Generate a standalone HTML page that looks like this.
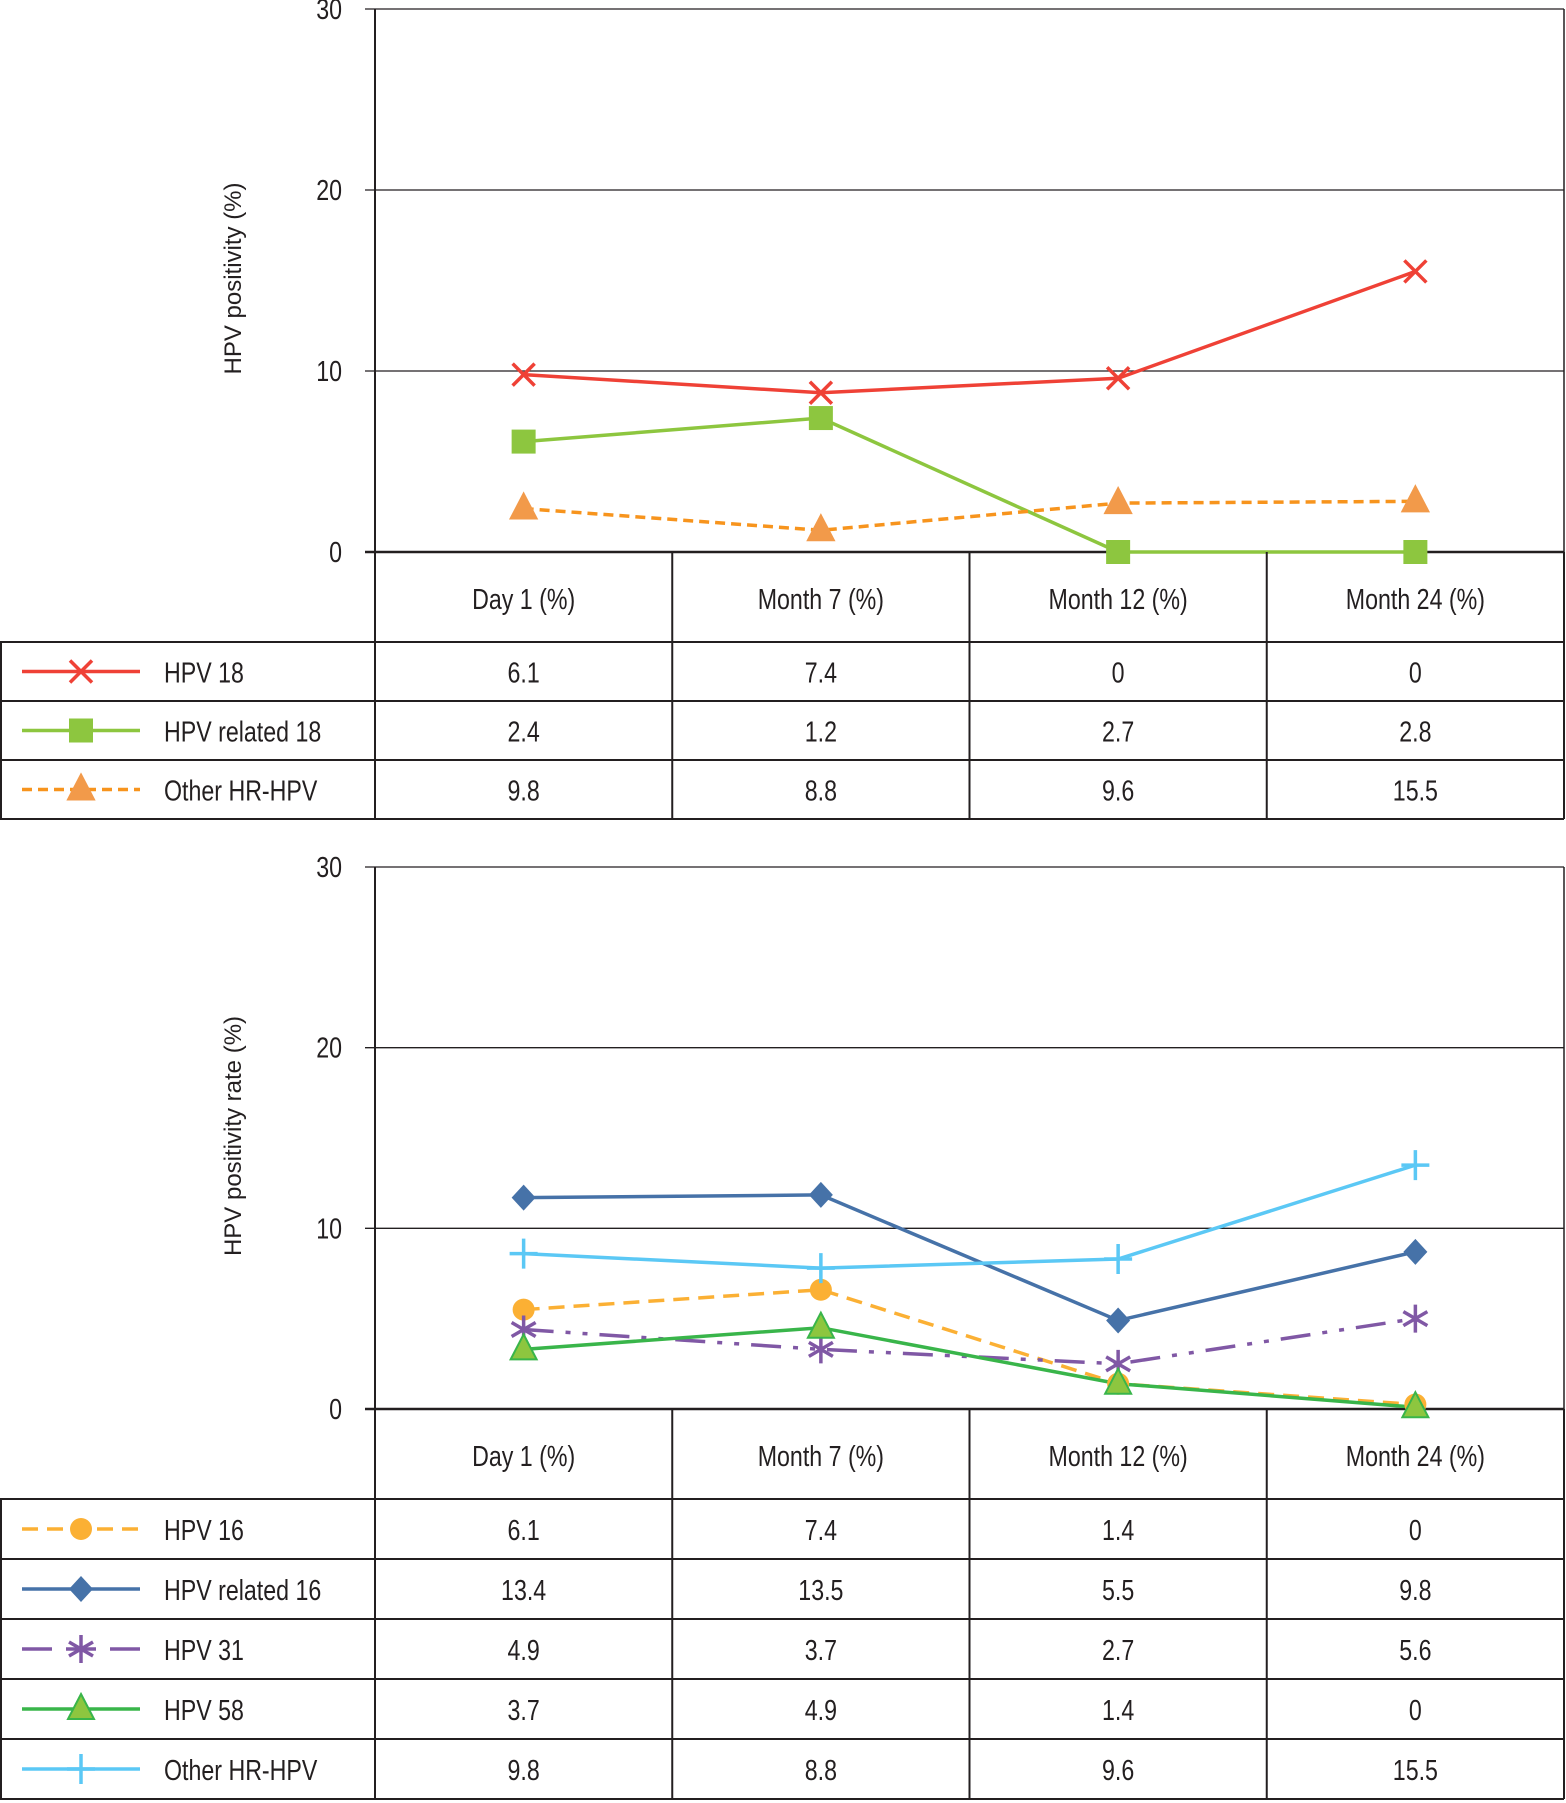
<!DOCTYPE html>
<html><head><meta charset="utf-8"><style>
html,body{margin:0;padding:0;background:#fff}
svg{display:block}
text{font-family:"Liberation Sans",sans-serif;fill:#231f20}
.t{font-size:29px}
.yt{font-family:"Liberation Sans",sans-serif;font-size:24px}
</style></head><body>
<svg id="svg" width="1566" height="1803" viewBox="0 0 1566 1803" xmlns="http://www.w3.org/2000/svg"></svg>
<script>
const categories = ["Day 1 (%)", "Month 7 (%)", "Month 12 (%)", "Month 24 (%)"];
const yTicks = [0, 10, 20, 30];
// top chart plotted series
const topRed = [9.8, 8.8, 9.6, 15.5];
const topGreen = [6.1, 7.4, 0, 0];
const topOrange = [2.4, 1.2, 2.7, 2.8];
// top table values
const topLabels = ["HPV 18", "HPV related 18", "Other HR-HPV"];
const topRow1 = ["6.1", "7.4", "0", "0"];
const topRow2 = ["2.4", "1.2", "2.7", "2.8"];
const topRow3 = ["9.8", "8.8", "9.6", "15.5"];
// bottom chart plotted series
const botOrange = [5.5, 6.6, 1.4, 0.25];
const botBlue = [11.7, 11.85, 4.9, 8.7];
const botPurple = [4.4, 3.3, 2.5, 5.0];
const botGreen = [3.3, 4.5, 1.4, 0.1];
const botCyan = [8.6, 7.8, 8.3, 13.5];
// bottom table values
const botLabels = ["HPV 16", "HPV related 16", "HPV 31", "HPV 58", "Other HR-HPV"];
const botRow1 = ["6.1", "7.4", "1.4", "0"];
const botRow2 = ["13.4", "13.5", "5.5", "9.8"];
const botRow3 = ["4.9", "3.7", "2.7", "5.6"];
const botRow4 = ["3.7", "4.9", "1.4", "0"];
const botRow5 = ["9.8", "8.8", "9.6", "15.5"];

const NS = "http://www.w3.org/2000/svg";
const svg = document.getElementById("svg");
function mk(tag, attrs, parent) {
  const e = document.createElementNS(NS, tag);
  for (const k in attrs) e.setAttribute(k, attrs[k]);
  (parent || svg).appendChild(e);
  return e;
}
function ntext(parent, x, y, anchor, str) {
  const t = mk("text", {x:0, y:0, "text-anchor":anchor, class:"t", transform:`translate(${x},${y}) scale(0.8,1)`}, parent);
  t.textContent = str;
  return t;
}
const L = 375, R = 1564, colW = (R - L) / 4;
const xPos = i => L + colW * (i + 0.5);

function marker(g, type, x, y, color) {
  let e;
  if (type === "x") {
    e = mk("path", {d:`M${x-11},${y-11}L${x+11},${y+11}M${x+11},${y-11}L${x-11},${y+11}`, stroke:color, "stroke-width":3.5, fill:"none"}, g);
  } else if (type === "square") {
    e = mk("rect", {x:x-12, y:y-12, width:24, height:24, fill:color}, g);
  } else if (type === "tri") {
    e = mk("path", {d:`M${x},${y-15}L${x+13},${y+10}L${x-13},${y+10}Z`, fill:color, stroke:color==="#8dc63f"?"#39b54a":color, "stroke-width":2}, g);
  } else if (type === "circle") {
    e = mk("circle", {cx:x, cy:y, r:11, fill:color}, g);
  } else if (type === "diamond") {
    e = mk("path", {d:`M${x},${y-13}L${x+12},${y}L${x},${y+13}L${x-12},${y}Z`, fill:color}, g);
  } else if (type === "star") {
    e = mk("path", {d:`M${x},${y-14}L${x},${y+14}M${x-12},${y-7}L${x+12},${y+7}M${x+12},${y-7}L${x-12},${y+7}`, stroke:color, "stroke-width":3.5, fill:"none"}, g);
  } else if (type === "plus") {
    e = mk("path", {d:`M${x},${y-15}L${x},${y+15}M${x-14},${y}L${x+14},${y}`, stroke:color, "stroke-width":3.5, fill:"none"}, g);
  }
  
  
}

function chart(prefix, top, y0, title, series, labels, rows, rowH, headerBottom) {
  const yS = v => y0 - (v / 30) * (y0 - top);
  const g = mk("g", {});
  
  
  yTicks.forEach(t => {
    const y = yS(t);
    const gl = mk("line", {x1:365, x2:R, y1:y, y2:y, stroke:"#231f20", "stroke-width": t===0?2.5:1.3}, g);
    
    
    const tl = ntext(g, 342, y + 10, "end", String(t));
    
    
  });
  const ax = mk("line", {x1:L, x2:L, y1:top, y2:y0, stroke:"#231f20", "stroke-width":2}, g);
  
  
  const rb = mk("line", {x1:R, x2:R, y1:top, y2:y0, stroke:"#231f20", "stroke-width":1.5}, g);
  
  
  const ty = (top + y0) / 2;
  const yt = mk("text", {x:0, y:0, "text-anchor":"middle", class:"yt", transform:`translate(241,${ty - 2}) rotate(-90)`}, g);
  yt.textContent = title;
  
  
  series.forEach(s => {
    const pts = s.vals.map((v, i) => `${xPos(i)},${yS(v)}`).join(" ");
    const pl = mk("polyline", {points:pts, fill:"none", stroke:s.color, "stroke-width":3.5, "stroke-dasharray":s.dash||"none"}, g);
    
    
  });
  series.forEach(s => s.vals.forEach((v, i) => marker(g, s.marker, xPos(i), yS(v), s.mcolor || s.color)));
  const tg = mk("g", {});
  
  
  const tableBottom = headerBottom + rowH * rows.length;
  for (let i = 0; i <= 4; i++) {
    const x = L + colW * i;
    mk("line", {x1:x, x2:x, y1:y0, y2:tableBottom, stroke:"#231f20", "stroke-width":2}, tg);
  }
  mk("line", {x1:1, x2:1, y1:headerBottom, y2:tableBottom, stroke:"#231f20", "stroke-width":2}, tg);
  for (let r = 0; r <= rows.length; r++) {
    const y = headerBottom + rowH * r;
    mk("line", {x1:0, x2:R, y1:y, y2:y, stroke:"#231f20", "stroke-width":2}, tg);
  }
  categories.forEach((c, i) => {
    const t = ntext(tg, xPos(i), (y0 + headerBottom)/2 + 12, "middle", c);
    
    
  });
  rows.forEach((row, r) => {
    const cy = headerBottom + rowH * (r + 0.5);
    const s = series[r];
    const lg = mk("g", {}, tg);
    
    
    mk("line", {x1:22, x2:140, y1:cy, y2:cy, stroke:s.color, "stroke-width":3.5, "stroke-dasharray":s.ldash||s.dash||"none"}, lg);
    marker(lg, s.marker, 81, cy, s.mcolor || s.color);
    ntext(lg, 164, cy + 11, "start", labels[r]);
    row.forEach((v, i) => {
      const t = ntext(tg, xPos(i), cy + 11, "middle", v);
      
      
    });
  });
}

chart("top", 9, 552, "HPV positivity (%)", [
  {name:"hpv18", vals:topRed, color:"#ef4136", marker:"x"},
  {name:"hpv-related-18", vals:topGreen, color:"#8dc63f", marker:"square"},
  {name:"other-hr-hpv", vals:topOrange, color:"#f7941d", mcolor:"#f29a4a", marker:"tri", dash:"10,6"}
], topLabels, [topRow1, topRow2, topRow3], 59, 642);

chart("bottom", 867, 1409, "HPV positivity rate (%)", [
  {name:"hpv16", vals:botOrange, color:"#fbb034", marker:"circle", dash:"16,9"},
  {name:"hpv-related-16", vals:botBlue, color:"#4672a8", marker:"diamond"},
  {name:"hpv31", vals:botPurple, color:"#8058a5", marker:"star", dash:"30,12,5,12,5,12", ldash:"30,14"},
  {name:"hpv58", vals:botGreen, color:"#39b54a", mcolor:"#8dc63f", marker:"tri"},
  {name:"other-hr-hpv", vals:botCyan, color:"#5bc8f5", marker:"plus"}
], botLabels, [botRow1, botRow2, botRow3, botRow4, botRow5], 60, 1499);
</script>
</body></html>
